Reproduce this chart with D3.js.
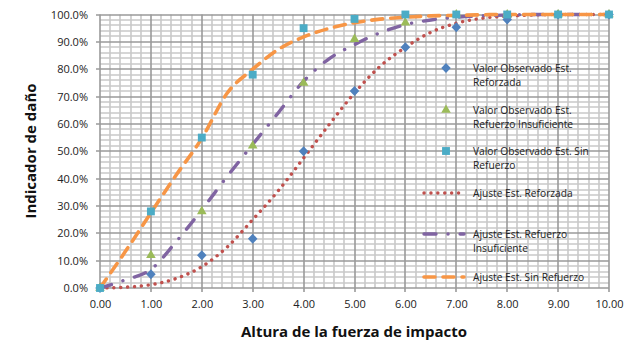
<!DOCTYPE html>
<html><head><meta charset="utf-8">
<script src="https://cdn.jsdelivr.net/npm/d3@7"></script>
<style>
html,body{margin:0;padding:0;background:#fff;}
svg{display:block;font-family:"Open Sans",sans-serif;}
</style></head>
<body><svg id="c" width="628" height="343"></svg>
<script>
// observed points (x = altura, y = fraction)
const obsX = [0,1,2,3,4,5,6,7,8,9,10];
const obsReforzada = [0,0.05,0.12,0.18,0.50,0.72,0.88,0.953,0.982,1.0,1.0];
const obsInsuficiente = [0,0.12,0.28,0.52,0.75,0.91,0.97,1.0,1.0,1.0,1.0];
const obsSinRefuerzo = [0,0.28,0.55,0.78,0.95,0.984,1.0,1.0,1.0,1.0,1.0];
// fitted curves read at 0.5 steps
const fitX = [0,0.5,1,1.5,2,2.5,3,3.5,4,4.5,5,5.5,6,6.5,7,7.5,8,8.5,9,9.5,10];
const fitReforzada = [0,0.003,0.012,0.035,0.078,0.15,0.25,0.355,0.475,0.597,0.713,0.81,0.88,0.935,0.968,0.986,0.994,0.998,1.0,1.0,1.0];
const fitInsuficiente = [0,0.03,0.068,0.17,0.286,0.408,0.525,0.64,0.756,0.838,0.89,0.933,0.963,0.98,0.99,0.995,0.998,1.0,1.0,1.0,1.0];
const fitSinRefuerzo = [0,0.134,0.275,0.414,0.547,0.713,0.8,0.872,0.918,0.949,0.97,0.983,0.99,0.995,0.997,0.999,1.0,1.0,1.0,1.0,1.0];
const xTicks = [0,1,2,3,4,5,6,7,8,9,10];
const yTicks = [0,0.1,0.2,0.3,0.4,0.5,0.6,0.7,0.8,0.9,1.0];
const xTitle = "Altura de la fuerza de impacto";
const yTitle = "Indicador de daño";
const legendLabels = [
  ["Valor Observado Est.","Reforzada"],
  ["Valor Observado Est.","Refuerzo Insuficiente"],
  ["Valor Observado Est. Sin","Refuerzo"],
  ["Ajuste Est. Reforzada"],
  ["Ajuste Est. Refuerzo","Insuficiente"],
  ["Ajuste Est. Sin Refuerzo"]
];
const colors = {blue:"#4f81bd", green:"#9bbb59", teal:"#4bacc6", red:"#c0504d", purple:"#8064a2", orange:"#f79646"};

const svg = d3.select("#c");
const x = d3.scaleLinear().domain([0,10]).range([100,609]);
const y = d3.scaleLinear().domain([0,1]).range([288,14.5]);

// grid
const g = svg.append("g");
const minorX = d3.range(0,10.001,0.2).filter(v=>Math.abs(v-Math.round(v))>1e-6);
const minorY = d3.range(0,1.0001,0.02).filter(v=>Math.abs(v*10-Math.round(v*10))>1e-6);
g.selectAll(".mx").data(minorX).join("line")
  .attr("x1",d=>Math.round(x(d))).attr("x2",d=>Math.round(x(d)))
  .attr("y1",y(1)).attr("y2",y(0)).attr("stroke","#c9c9c9").attr("stroke-width",1.6);
g.selectAll(".my").data(minorY).join("line")
  .attr("y1",d=>Math.round(y(d))).attr("y2",d=>Math.round(y(d)))
  .attr("x1",x(0)).attr("x2",x(10)).attr("stroke","#c9c9c9").attr("stroke-width",1.6);
g.selectAll(".Mx").data(xTicks).join("line")
  .attr("x1",d=>Math.round(x(d))).attr("x2",d=>Math.round(x(d)))
  .attr("y1",y(1)).attr("y2",y(0)+4).attr("stroke","#9a9a9a").attr("stroke-width",1.6);
g.selectAll(".My").data(yTicks).join("line")
  .attr("y1",d=>Math.round(y(d))).attr("y2",d=>Math.round(y(d)))
  .attr("x1",x(0)-4).attr("x2",x(10)).attr("stroke","#9a9a9a").attr("stroke-width",1.6);

// axes labels
const ax = d3.axisBottom(x).tickValues(xTicks).tickFormat(d3.format(".2f")).tickSize(0).tickPadding(12);
const axG = svg.append("g").attr("transform",`translate(0,${y(0)})`).call(ax);
axG.select(".domain").remove();
axG.selectAll("text").attr("font-size",11).attr("fill","#222").attr("font-family","'Open Sans',sans-serif");
const ay = d3.axisLeft(y).tickValues(yTicks).tickFormat(d3.format(".1%")).tickSize(0).tickPadding(12);
const ayG = svg.append("g").attr("transform",`translate(${x(0)},0)`).call(ay);
ayG.select(".domain").remove();
ayG.selectAll("text").attr("font-size",11).attr("fill","#222").attr("font-family","'Open Sans',sans-serif");

svg.append("text").attr("x",354).attr("y",337).attr("text-anchor","middle")
  .attr("font-weight","bold").attr("font-size",15).attr("fill","#111").text(xTitle);
svg.append("text").attr("transform","translate(36,151) rotate(-90)").attr("text-anchor","middle")
  .attr("font-weight","bold").attr("font-size",15).attr("fill","#111").text(yTitle);

// fitted lines
const line = d3.line().x(d=>x(d[0])).y(d=>y(d[1])).curve(d3.curveMonotoneX);
const fits = [
  {vals:fitReforzada, color:colors.red, dash:"0.1 6.8", w:3.4},
  {vals:fitInsuficiente, color:colors.purple, dash:"12 12 0.1 12", w:3.4},
  {vals:fitSinRefuerzo, color:colors.orange, dash:"11 8", w:3.6}
];
fits.forEach(f=>{
  svg.append("path").datum(fitX.map((v,i)=>[v,f.vals[i]]))
    .attr("d",line).attr("fill","none").attr("stroke",f.color)
    .attr("stroke-width",f.w).attr("stroke-dasharray",f.dash).attr("stroke-linecap","round");
});

// markers
const diamond = {draw(ctx,size){const r=Math.sqrt(size)/1.45; ctx.moveTo(0,-r*1.05); ctx.lineTo(r,0); ctx.lineTo(0,r*1.05); ctx.lineTo(-r,0); ctx.closePath();}};
const series = [
  {vals:obsReforzada, color:colors.blue, sym:diamond, size:48},
  {vals:obsInsuficiente, color:colors.green, sym:d3.symbolTriangle, size:40},
  {vals:obsSinRefuerzo, color:colors.teal, sym:d3.symbolSquare, size:62}
];
series.forEach(s=>{
  svg.append("g").selectAll("path").data(obsX.map((v,i)=>[v,s.vals[i]])).join("path")
    .attr("transform",d=>`translate(${x(d[0])},${y(d[1])})`)
    .attr("d",d3.symbol().type(s.sym).size(s.size)).attr("fill",s.color);
});

// legend
const legY = [68,110,151,193,234,277];
const lg = svg.append("g");
legendLabels.forEach((lab,i)=>{
  const cy = legY[i];
  if(i<3){
    const s = series[i];
    lg.append("path").attr("transform",`translate(446,${cy})`)
      .attr("d",d3.symbol().type(s.sym).size(s.size)).attr("fill",s.color);
  } else {
    const f = fits[i-3];
    lg.append("line").attr("x1",424).attr("x2",464).attr("y1",cy).attr("y2",cy)
      .attr("stroke",f.color).attr("stroke-width",f.w).attr("stroke-dasharray",f.dash).attr("stroke-linecap","round");
  }
  lab.forEach((t,j)=>{
    lg.append("text").attr("x",473).attr("y",cy+j*14.5).attr("dy","0.35em")
      .attr("font-size",10.2).attr("fill","#222").text(t);
  });
});
</script></body></html>
